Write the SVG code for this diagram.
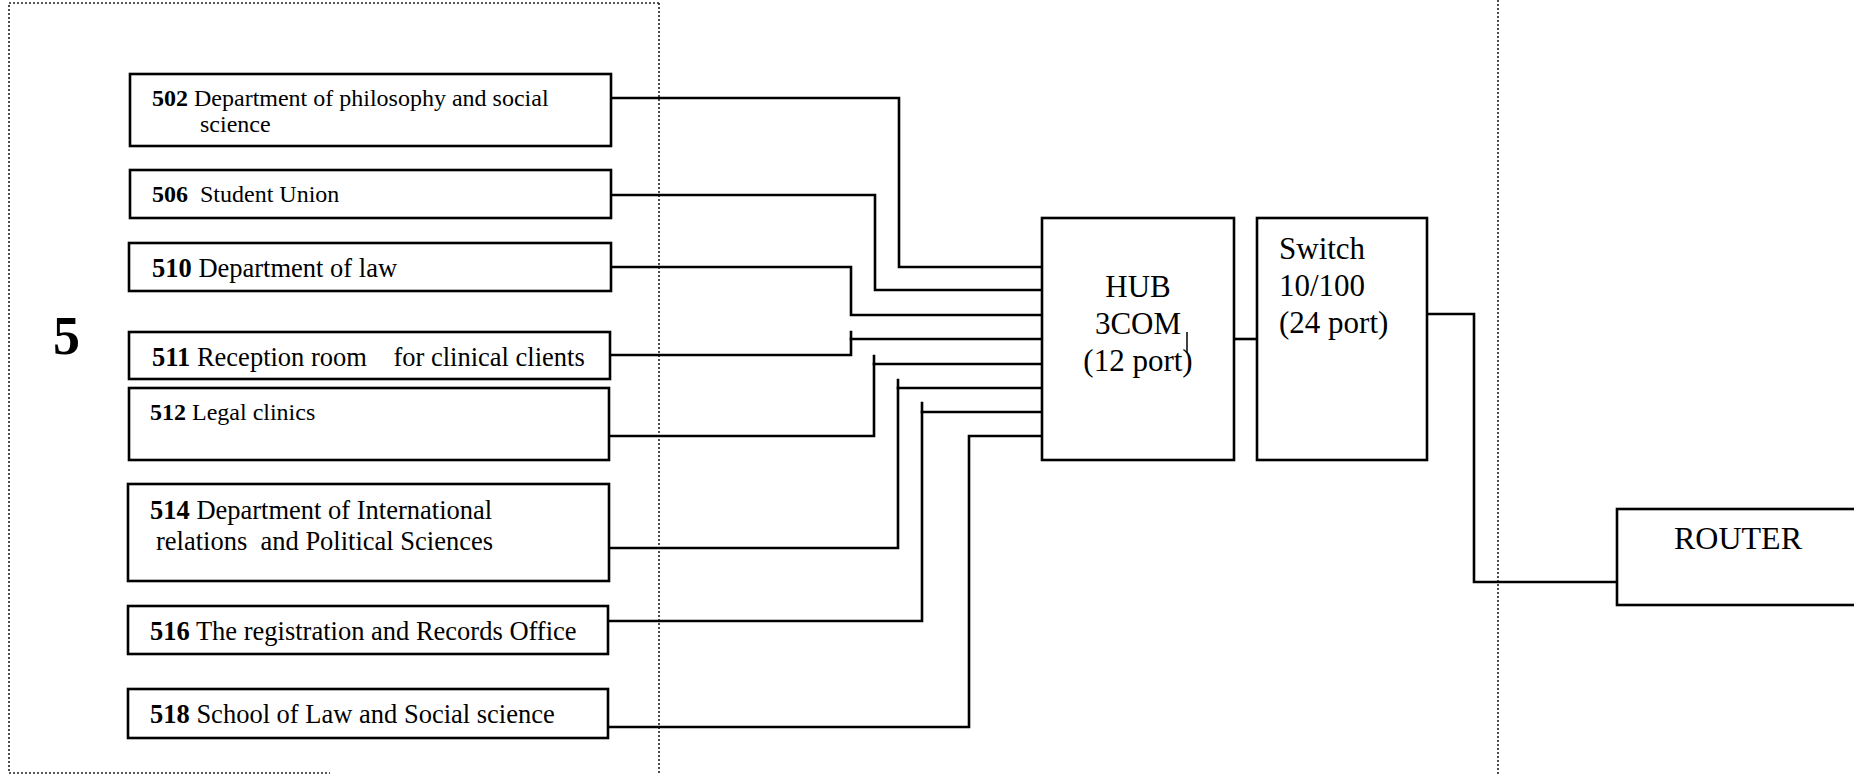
<svg xmlns="http://www.w3.org/2000/svg" width="1854" height="775" viewBox="0 0 1854 775">
<style>
.bg{fill:#fff}
.box{fill:#fff;stroke:#000;stroke-width:2.6}
.wire{fill:none;stroke:#000;stroke-width:2.6;stroke-linejoin:miter;stroke-linecap:square}
.dot{fill:none;stroke:#222;stroke-width:1.6;stroke-dasharray:2 2}
.t{font-family:"Liberation Serif","Times New Roman",serif;fill:#000}
.s24{font-size:24px}
.s26{font-size:26.5px}
.big{font-size:31px}
.b{font-weight:bold}
</style>
<rect class="bg" x="0" y="0" width="1854" height="775"/>
<g id="frame">
<path class="dot" d="M659,3 H9 V773 H330"/>
<line class="dot" x1="659" y1="3" x2="659" y2="775"/>
<line class="dot" x1="1498" y1="0" x2="1498" y2="775"/>
</g>
<text id="floor-label" class="t b" x="53" y="354" font-size="54px">5</text>
<g id="connectors">
<path class="wire" d="M611,98 H899 V267 H1042"/>
<path class="wire" d="M611,195 H875 V290 H1042"/>
<path class="wire" d="M611,267 H851 V315 H1042"/>
<path class="wire" d="M610,355 H851 V332"/>
<path class="wire" d="M851,339 H1042"/>
<path class="wire" d="M609,436 H874 V356"/>
<path class="wire" d="M874,364 H1042"/>
<path class="wire" d="M609,548 H898 V380"/>
<path class="wire" d="M898,388 H1042"/>
<path class="wire" d="M608,621 H922 V403"/>
<path class="wire" d="M922,412 H1042"/>
<path class="wire" d="M608,727 H969 V436 H1042"/>
<path class="wire" d="M1234,339 H1257"/>
<path class="wire" d="M1427,314 H1474 V582 H1617"/>
</g>
<g id="n502"><rect class="box" x="130" y="74" width="481" height="72"/>
<text class="t s24" x="152" y="106"><tspan class="b">502</tspan> Department of philosophy and social</text>
<text class="t s24" x="200" y="132">science</text></g>
<g id="n506"><rect class="box" x="130" y="170" width="481" height="48"/>
<text class="t s24" x="152" y="202" xml:space="preserve"><tspan class="b">506</tspan>  Student Union</text></g>
<g id="n510"><rect class="box" x="129" y="243" width="482" height="48"/>
<text class="t s26" x="152" y="277"><tspan class="b">510</tspan> Department of law</text></g>
<g id="n511"><rect class="box" x="129" y="332" width="481" height="47"/>
<text class="t s26" x="152" y="366" xml:space="preserve"><tspan class="b">511</tspan> Reception room    for clinical clients</text></g>
<g id="n512"><rect class="box" x="129" y="388" width="480" height="72"/>
<text class="t s24" x="150" y="420"><tspan class="b">512</tspan> Legal clinics</text></g>
<g id="n514"><rect class="box" x="128" y="484" width="481" height="97"/>
<text class="t s26" x="150" y="519"><tspan class="b">514</tspan> Department of International</text>
<text class="t s26" x="156" y="550" xml:space="preserve">relations  and Political Sciences</text></g>
<g id="n516"><rect class="box" x="128" y="606" width="480" height="48"/>
<text class="t s26" x="150" y="640"><tspan class="b">516</tspan> The registration and Records Office</text></g>
<g id="n518"><rect class="box" x="128" y="689" width="480" height="49"/>
<text class="t s26" x="150" y="723"><tspan class="b">518</tspan> School of Law and Social science</text></g>
<g id="hub"><rect class="box" x="1042" y="218" width="192" height="242"/>
<text class="t big" x="1138" y="297" text-anchor="middle">HUB</text>
<text class="t big" x="1138" y="334" text-anchor="middle">3COM</text>
<text class="t big" x="1138" y="371" text-anchor="middle">(12 port)</text>
<line x1="1187" y1="332" x2="1187" y2="353" stroke="#000" stroke-width="1.5"/></g>
<g id="switch"><rect class="box" x="1257" y="218" width="170" height="242"/>
<text class="t big" x="1279" y="259">Switch</text>
<text class="t big" x="1279" y="296">10/100</text>
<text class="t big" x="1279" y="333">(24 port)</text></g>
<g id="router"><rect class="box" x="1617" y="509" width="250" height="96"/>
<text class="t" x="1674" y="549" font-size="32px">ROUTER</text></g>
</svg>
